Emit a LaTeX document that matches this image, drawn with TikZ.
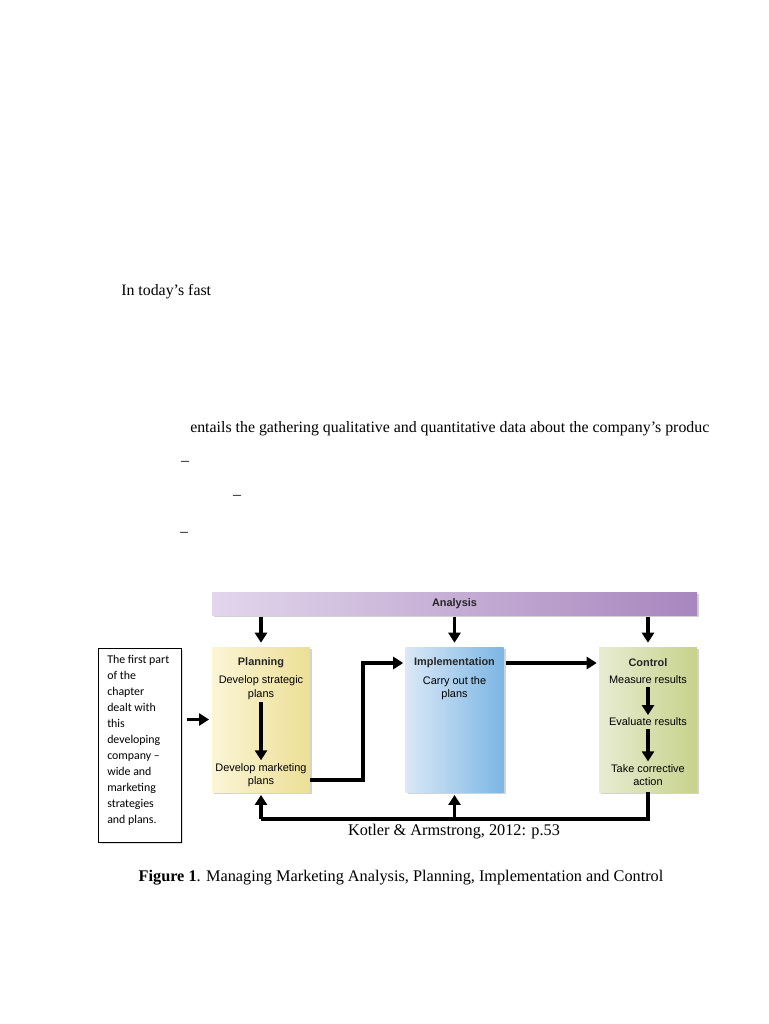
\documentclass[tikz,border=0pt]{standalone}
\usepackage{fontspec}
\setmainfont{Liberation Serif}
\newfontfamily\arialf{Liberation Sans}
\newfontfamily\calib{Carlito}
\usetikzlibrary{arrows.meta,shadows}
\begin{document}
\begin{tikzpicture}[x=0.75pt,y=-0.75pt,
  arr/.style={line width=2.6pt,-{Triangle[length=7.5pt,width=9pt]}},
  bodytext/.style={font=\fontsize{11.9}{14}\selectfont,inner sep=0pt},
  boxtxt/.style={font=\arialf\fontsize{8.2}{10}\selectfont,align=center,inner sep=0pt},
  boxtitle/.style={font=\arialf\bfseries\fontsize{8.2}{10}\selectfont,inner sep=0pt},
  stagebox/.style={rectangle,minimum width=73.5pt,minimum height=108.75pt,inner sep=0pt,
     drop shadow={shadow xshift=1.8pt,shadow yshift=-1.8pt,opacity=0.35}},
]
\useasboundingbox[fill=white] (0,0) rectangle (768,1024);

% body text
\node[bodytext,anchor=base west] (t1) at (121,295) {In today’s fast};
\node[bodytext,anchor=base west] (t2) at (190,432) {entails the gathering qualitative and quantitative data about the company’s produc};
\node[bodytext] (d1) at (185,463) {–};
\node[bodytext] (d2) at (237,497) {–};
\node[bodytext] (d3) at (184,534) {–};

% analysis bar
\node[rectangle,minimum width=363.75pt,minimum height=17.25pt,inner sep=0pt,
      left color={rgb,255:red,226;green,214;blue,236},right color={rgb,255:red,168;green,134;blue,190},
      drop shadow={shadow xshift=1.5pt,shadow yshift=-1.5pt,opacity=0.35}] (ana) at (454.5,603.5) {};
\node[boxtitle,text=black!85] (anat) at (454.5,604) {Analysis};

% stage boxes
\node[stagebox,left color={rgb,255:red,251;green,245;blue,214},right color={rgb,255:red,236;green,223;blue,150}] (plan) at (261,719.5) {};
\node[stagebox,left color={rgb,255:red,218;green,232;blue,247},right color={rgb,255:red,124;green,182;blue,228}] (impl) at (454.5,719.5) {};
\node[stagebox,left color={rgb,255:red,231;green,236;blue,210},right color={rgb,255:red,200;green,210;blue,140}] (ctrl) at (648,719.5) {};

% planning texts
\node[boxtitle,text=black!85] (plant) at (261,663) {Planning};
\node[boxtxt] (dsp) at (261,687.5) {Develop strategic\\plans};
\node[boxtxt] (dmp) at (261,775) {Develop marketing\\plans};
% implementation texts
\node[boxtitle,text=black!85] (implt) at (454.5,663) {Implementation};
\node[boxtxt] (cop) at (454.5,688) {Carry out the\\plans};
% control texts
\node[boxtitle,text=black!85] (ctrlt) at (648,663) {Control};
\node[boxtxt] (mr) at (648,680) {Measure results};
\node[boxtxt] (er) at (648,722) {Evaluate results};
\node[boxtxt] (tca) at (648,775) {Take corrective\\action};

% left box
\node[draw,line width=0.6pt,rectangle,minimum width=62.25pt,minimum height=145.5pt,inner sep=0pt,
      anchor=north west,drop shadow={shadow xshift=1pt,shadow yshift=-1pt,opacity=0.25},fill=white] (left) at (98,648) {};
\node[font=\calib\fontsize{8.9}{12}\selectfont,align=left,anchor=north west,inner sep=0pt] (leftt) at (107,655)
 {The first part\\of the\\chapter\\dealt with\\this\\developing\\company –\\wide and\\marketing\\strategies\\and plans.};

% arrows from analysis
\draw[arr,shorten <=1pt,shorten >=3pt] (ana.south -| plan.north) -- (plan.north);
\draw[arr,shorten <=1pt,shorten >=3pt] (ana.south -| impl.north) -- (impl.north);
\draw[arr,shorten <=1pt,shorten >=3pt] (ana.south -| ctrl.north) -- (ctrl.north);

% inner arrows
\draw[arr,shorten <=2pt,shorten >=2pt] (dsp.south) -- (dmp.north);
\draw[arr,shorten <=2pt,shorten >=2pt] (mr.south) -- (er.north);
\draw[arr,shorten <=2pt,shorten >=2pt] (er.south) -- (tca.north);

% flow arrows
\coordinate (bend) at (363,780);
\draw[arr,shorten >=1.5pt] (plan.east |- bend) -- (bend) |- (impl.west |- implt);
\draw[arr,shorten <=1.5pt,shorten >=1.5pt] (impl.east |- implt) -- (ctrl.west |- implt);
\draw[arr,shorten <=4pt,shorten >=2pt] (left.east |- plan.west) -- (plan.west);

% feedback
\coordinate (fb) at (647,819);
\draw[line width=2.6pt] (ctrl.south) -- (ctrl.south |- fb) -- (plan.south |- fb);
\draw[arr,shorten >=2pt] (plan.south |- fb) -- (plan.south);
\draw[arr,shorten >=2pt] (impl.south |- fb) -- (impl.south);

% captions
\node[font=\fontsize{12.2}{14}\selectfont,inner sep=0pt] (src) at (454,832) {Kotler \& Armstrong, 2012: p.53};
\node[font=\fontsize{12.2}{14}\selectfont,inner sep=0pt] (cap) at (401,878) {\textbf{Figure 1}. Managing Marketing Analysis, Planning, Implementation and Control};
\end{tikzpicture}
\end{document}
